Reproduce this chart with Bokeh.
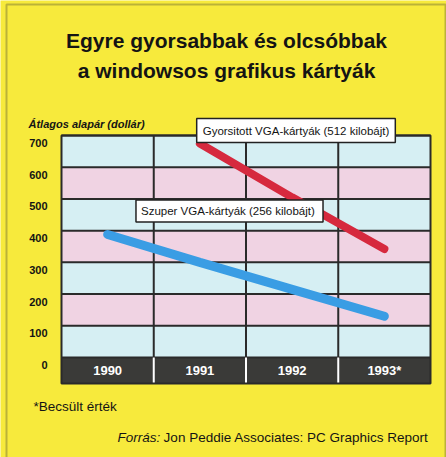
from bokeh.plotting import figure
from bokeh.models import Label, Range1d, BoxAnnotation
from bokeh.core.properties import value
from bokeh.embed import file_html
from bokeh.resources import INLINE

# ---- data ----
years = [1990, 1991, 1992, 1993]
year_labels = ["1990", "1991", "1992", "1993*"]
svga_years = [1990, 1991, 1992, 1993]
svga_price = [388, 300, 215, 130]          # Szuper VGA-kártyák (256 kilobájt)
accel_years = [1991, 1992, 1993]
accel_price = [675, 505, 342]              # Gyorsitott VGA-kártyák (512 kilobájt)
y_ticks = [0, 100, 200, 300, 400, 500, 600, 700]
y_tick_labels = ["0", "100", "200", "300", "400", "500", "600", "700"]

title_lines = ["Egyre gyorsabbak és olcsóbbak", "a windowsos grafikus kártyák"]
y_title = "Átlagos alapár (dollár)"
accel_name = "Gyorsitott VGA-kártyák (512 kilobájt)"
svga_name = "Szuper VGA-kártyák  (256 kilobájt)"
footnote = "*Becsült érték"
source_lead = "Forrás:"
source_text = "Jon Peddie Associates: PC Graphics Report"

# ---- style / layout ----
YELLOW = "#f7ea3c"
BLUE_BAND = "#d6eff3"
PINK_BAND = "#f0d3e3"
DARK = "#3a3a38"
GRID = "#2a2a2a"
INK = "#141414"
FONT = "Liberation Sans"

W, H = 446, 457
PX_L, PX_R, PX_T, PX_B = 61, 430, 135, 383   # plot region on the canvas
x0, x1 = years[0] - 0.5, years[-1] + 0.5
y_top = y_ticks[-1]
band_bottom = -82                              # dark year strip below 0

xs = (x1 - x0) / (PX_R - PX_L)
ys = (y_top - band_bottom) / (PX_B - PX_T)
x_range = Range1d(x0 - PX_L * xs, x1 + (W - PX_R) * xs)
y_range = Range1d(band_bottom - (H - PX_B) * ys, y_top + PX_T * ys)

p = figure(width=W, height=H, output_backend="svg", toolbar_location=None,
           x_range=x_range, y_range=y_range,
           x_axis_location=None, y_axis_location=None,
           min_border=0)
p.background_fill_color = YELLOW
p.border_fill_color = YELLOW
p.outline_line_color = None
p.grid.visible = False

n = len(y_ticks) - 1
band_colors = [BLUE_BAND if i % 2 == 0 else PINK_BAND for i in range(n)]
p.quad(left=[x0] * n, right=[x1] * n, bottom=y_ticks[:-1], top=y_ticks[1:],
       fill_color=band_colors, line_color=None)
p.quad(left=[x0], right=[x1], bottom=[band_bottom], top=[0],
       fill_color=DARK, line_color=None)

bounds = [y + 0.5 for y in years[:-1]]
# grid lines
p.segment(x0=[x0] * len(y_ticks), x1=[x1] * len(y_ticks), y0=y_ticks, y1=y_ticks,
          line_color=GRID, line_width=2)
p.segment(x0=bounds, x1=bounds, y0=[0] * len(bounds), y1=[y_top] * len(bounds),
          line_color=GRID, line_width=2)
p.segment(x0=bounds, x1=bounds, y0=[band_bottom] * len(bounds), y1=[0] * len(bounds),
          line_color="white", line_width=2)
# frame of the plot region
p.quad(left=[x0], right=[x1], bottom=[band_bottom], top=[y_top],
       fill_color=None, line_color=GRID, line_width=2)

# y tick labels (printed a little below their lines)
p.text(x=[x0] * len(y_ticks), y=y_ticks, text=y_tick_labels,
       x_offset=-14, y_offset=7.5, text_color=INK, text_font=value(FONT),
       text_font_style="bold", text_font_size="11px",
       text_align="right", text_baseline="middle")

# year labels in the dark strip
p.text(x=years, y=[band_bottom / 2] * len(years), text=year_labels,
       text_color="white", text_font=value(FONT), text_font_style="bold",
       text_font_size="13px", text_align="center", text_baseline="middle")

# data lines
p.line(svga_years, svga_price, line_color="#3a9de4", line_width=9, line_cap="round")
p.line(accel_years, accel_price, line_color="#d6293e", line_width=8, line_cap="round")


def lab(txt, x, y, size, style="normal", align="left", baseline="alphabetic", **kw):
    p.add_layout(Label(x=x, y=H - y, x_units="screen", y_units="screen", text=txt,
                       text_font=FONT, text_font_size=size, text_font_style=style,
                       text_align=align, text_baseline=baseline,
                       text_color=INK, **kw))


lab(title_lines[0], 226, 40, "21px", "bold", "center")
lab(title_lines[1], 226, 70, "21px", "bold", "center")
lab(y_title, 28, 123, "11px", "bold italic")
lab(accel_name, 295.5, 130, "11.5px", "normal", "center", "middle",
    background_fill_color="white", border_line_color="#222222",
    border_line_width=1.5, padding=6)
lab(svga_name, 229, 210.5, "11.5px", "normal", "center", "middle",
    background_fill_color="white", border_line_color="#222222",
    border_line_width=1.5, padding=5)
lab(footnote, 33, 406, "13.5px")
lab(source_lead, 117, 437, "13.5px", "italic")
lab(source_text, 428, 437, "13.5px", "normal", "right")

# outer frame of the graphic
p.add_layout(BoxAnnotation(left=6, right=445, bottom=-10, top=H - 4,
                           left_units="screen", right_units="screen",
                           bottom_units="screen", top_units="screen",
                           fill_color=None, line_color="#333333", line_width=2))

open("out.html", "w").write(file_html(p, INLINE))
